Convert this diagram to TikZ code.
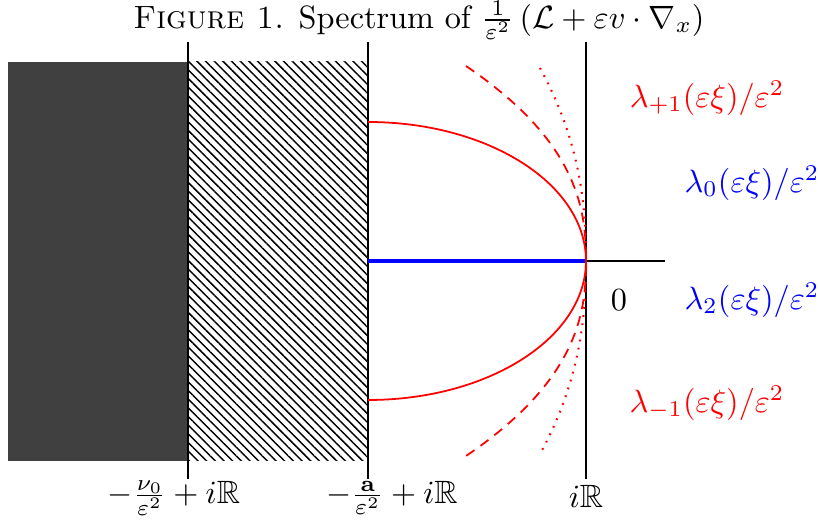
\documentclass[tikz,border=0pt]{standalone}
\usepackage{amsmath,amssymb}
\usetikzlibrary{patterns.meta}
\definecolor{darkfill}{RGB}{64,64,64}
\begin{document}
\begin{tikzpicture}[x=0.31pt,y=-0.31pt,
  axisline/.style={black,line width=0.8pt},
  curvered/.style={red,line width=0.55pt},
  lbl/.style={inner sep=0pt,anchor=center}]
\useasboundingbox (0,0) rectangle (820,523);
% regions
\fill[darkfill] (8,62) rectangle (188,461);
\fill[pattern={Lines[angle=-45,distance=1.9pt,line width=0.45pt]}] (188,62) rectangle (368,461);
% vertical lines
\coordinate (a1) at (188,42); \coordinate (a2) at (188,479);
\coordinate (b1) at (368,42); \coordinate (b2) at (368,479);
\coordinate (c1) at (586,42); \coordinate (c2) at (586,479);
\coordinate (o) at (586,261); \coordinate (h0) at (368,261); \coordinate (h1) at (665,261);
\draw[axisline] (a1) -- (a2);
\draw[axisline] (b1) -- (b2);
\draw[axisline] (c1) -- (c2);
\draw[black,line width=0.6pt] (h0) -- (h1);
\draw[blue,line width=1.3pt] (h0) -- (o);
% curves
\draw[curvered] (368,122) arc[start angle=-90,end angle=90,x radius=218,y radius=139];
\draw[curvered,dash pattern=on 3.1pt off 2.3pt] plot[domain=-195:197,samples=120,smooth] ({586-120*((abs(\x)/195+0.0001)^2.4)},{261+\x});
\draw[curvered,line width=0.65pt,dash pattern=on 0.55pt off 2pt] plot[domain=-193:193,samples=120,smooth] ({586-46*((abs(\x)/193+0.0001)^2.3)},{261+\x});
% labels
\node[lbl] (title) at (419,20) {\textsc{Figure 1.} Spectrum of $\frac{1}{\varepsilon^2}\left(\mathcal{L}+\varepsilon v\cdot\nabla_x\right)$};
\node[lbl] (l1) at (174,498) {$-\frac{\nu_0}{\varepsilon^2}+i\mathbb{R}$};
\node[lbl] (l2) at (392,498) {$-\frac{\mathbf{a}}{\varepsilon^2}+i\mathbb{R}$};
\node[lbl] (l3) at (586,496) {$i\mathbb{R}$};
\node[lbl] (zero) at (619,300) {$0$};
\node[lbl,red] (lp) at (707,98) {$\lambda_{+1}(\varepsilon\xi)/\varepsilon^2$};
\node[lbl,blue] (l0) at (752,183) {$\lambda_{0}(\varepsilon\xi)/\varepsilon^2$};
\node[lbl,blue] (l2b) at (752,300) {$\lambda_{2}(\varepsilon\xi)/\varepsilon^2$};
\node[lbl,red] (lm) at (707,403) {$\lambda_{-1}(\varepsilon\xi)/\varepsilon^2$};
\end{tikzpicture}
\end{document}
